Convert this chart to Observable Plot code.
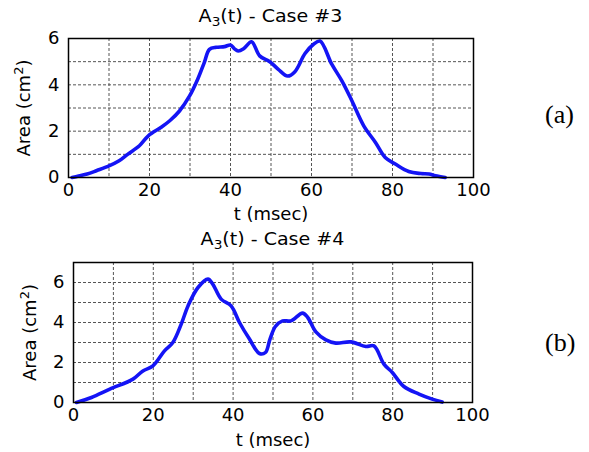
<!DOCTYPE html>
<html>
<head>
<meta charset="utf-8">
<script src="https://cdn.jsdelivr.net/npm/d3@7"></script>
<script src="https://cdn.jsdelivr.net/npm/@observablehq/plot@0.6"></script>
<style>
  html, body { margin: 0; padding: 0; background: #fff; }
  #wrap { position: relative; width: 589px; height: 452px; overflow: hidden; background: #fff; }
  .plot { position: absolute; left: 0; }
  .title { position: absolute; font-family: "DejaVu Sans", sans-serif; font-size: 17px; line-height: 20px;
           text-align: center; color: #000; transform: scaleX(1.12); transform-origin: center; white-space: nowrap; }
  .title sub { font-size: 0.72em; line-height: 0; vertical-align: -0.35em; }
  .tag { position: absolute; font-family: "Liberation Serif", "Times New Roman", serif; font-size: 26px; line-height: 30px; color: #000; }
</style>
</head>
<body>
<div id="wrap">
  <div id="p1" class="plot" style="top:0px"></div>
  <div id="p2" class="plot" style="top:226px"></div>
  <div class="title" style="left:68px; width:405px; top:6px">A<sub>3</sub>(t) - Case #3</div>
  <div class="title" style="left:73px; width:399px; top:229px">A<sub>3</sub>(t) - Case #4</div>
  <div class="tag" style="left:545px; top:100px">(a)</div>
  <div class="tag" style="left:545px; top:328px">(b)</div>
</div>
<script>
// Case #3 : time (msec) and area (cm^2)
const t3 = [0.9, 2.5, 4.6, 7, 10, 12.5, 14.6, 17.5, 19.7, 22.8, 25, 27.4, 29.9, 31.9, 33.5, 34.8, 36.5, 38.5, 40, 41, 41.9, 43.3, 45.2, 47.2, 49.7, 51.8, 54.1, 55.9, 58.4, 60.5, 62.1, 65, 67.5, 70, 72.9, 75.8, 78.2, 80.7, 84, 87, 89, 90.6, 93];
const a3 = [0, 0.07, 0.15, 0.3, 0.5, 0.72, 1.0, 1.37, 1.8, 2.16, 2.45, 2.87, 3.52, 4.24, 4.95, 5.53, 5.62, 5.65, 5.72, 5.55, 5.46, 5.57, 5.86, 5.25, 5.0, 4.67, 4.38, 4.57, 5.35, 5.75, 5.89, 4.89, 4.17, 3.3, 2.23, 1.51, 0.86, 0.58, 0.26, 0.17, 0.15, 0.08, 0];

// Case #4
const t4 = [0.75, 4.5, 9.1, 14.9, 17.4, 19.9, 22.8, 24.9, 27, 28.7, 31.2, 33.7, 34.9, 37, 39.5, 41.6, 44.1, 46.6, 48.1, 49.25, 50.6, 52.4, 54.5, 57.4, 58.7, 60.75, 63.25, 65.75, 69.5, 73.25, 75.3, 77.8, 79.9, 82.8, 86.6, 89.9, 92.4];
const a4 = [0, 0.25, 0.67, 1.17, 1.58, 1.83, 2.58, 3.0, 3.92, 4.83, 5.75, 6.17, 5.92, 5.17, 4.83, 4.0, 3.17, 2.45, 2.5, 3.17, 3.8, 4.08, 4.08, 4.47, 4.25, 3.53, 3.13, 2.97, 3.03, 2.8, 2.83, 1.92, 1.5, 0.8, 0.42, 0.17, 0.02];

// Tick labels and grid positions
const xTicks = [0, 20, 40, 60, 80, 100];
const xGrid = [10, 20, 30, 40, 50, 60, 70, 80, 90];
const yTicks3 = [0, 2, 4, 6];
const yGrid3 = [1, 2, 3, 4, 5];
const yTicks4 = [0, 2, 4, 6];
const yGrid4 = [1, 2, 3, 4, 5, 6];

function chart({t, a, yMax, yTicks, yGrid, height, margins, xLabelOffset, yLabelOffset}) {
  const data = t.map((x, i) => ({t: x, a: a[i]}));
  const svg = Plot.plot({
    width: 589,
    height,
    ...margins,
    style: {fontFamily: "DejaVu Sans, sans-serif", fontSize: "18px", color: "#000", background: "transparent"},
    x: {domain: [0, 100]},
    y: {domain: [0, yMax]},
    marks: [
      Plot.ruleX(xGrid, {stroke: "#555", strokeWidth: 1, strokeDasharray: "3,2"}),
      Plot.ruleY(yGrid, {stroke: "#555", strokeWidth: 1, strokeDasharray: "3,2"}),
      Plot.line(data, {x: "t", y: "a", stroke: "#1414f5", strokeWidth: 3.6, curve: "catmull-rom"}),
      Plot.frame({stroke: "#000", strokeWidth: 1.5}),
      Plot.axisX({ticks: xTicks, tickFormat: d3.format("d"), tickSize: 0, tickPadding: 6, fontSize: 18,
                  label: "t (msec)", labelAnchor: "center", labelOffset: xLabelOffset, labelArrow: "none"}),
      Plot.axisY({ticks: yTicks, tickFormat: d3.format("d"), tickSize: 0, tickPadding: 9, fontSize: 18,
                  label: "Area (cm2)", labelAnchor: "center", labelOffset: yLabelOffset, labelArrow: "none"})
    ]
  });
  // render the "2" of cm2 as a real superscript
  svg.querySelectorAll('g[aria-label="y-axis label"] text').forEach((txt) => {
    const s = d3.select(txt);
    s.text(null);
    s.append("tspan").text("Area (cm");
    s.append("tspan").attr("font-size", 13).attr("dy", -7).text("2");
    s.append("tspan").attr("dy", 7).text(")");
  });
  return svg;
}

document.getElementById("p1").appendChild(chart({
  t: t3, a: a3, yMax: 6, yTicks: yTicks3, yGrid: yGrid3, height: 226,
  margins: {marginLeft: 68, marginRight: 116, marginTop: 38, marginBottom: 49},
  xLabelOffset: 42, yLabelOffset: 51
}));
document.getElementById("p2").appendChild(chart({
  t: t4, a: a4, yMax: 7, yTicks: yTicks4, yGrid: yGrid4, height: 226,
  margins: {marginLeft: 73, marginRight: 117, marginTop: 36, marginBottom: 50},
  xLabelOffset: 43, yLabelOffset: 50
}));
</script>
</body>
</html>
